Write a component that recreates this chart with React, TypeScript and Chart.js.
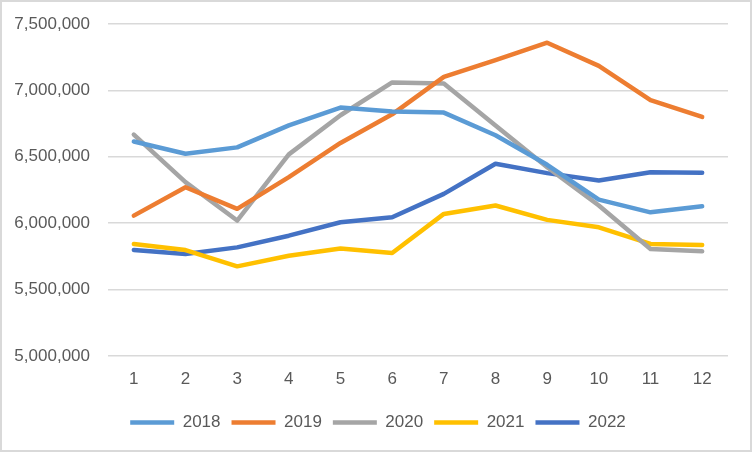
import React, { useEffect, useRef } from "react";
import { Chart, registerables } from "chart.js";

Chart.register(...registerables);

const categories = ["1", "2", "3", "4", "5", "6", "7", "8", "9", "10", "11", "12"];
const seriesNames = ["2018", "2019", "2020", "2021", "2022"];
const colors = ["#5B9BD5", "#ED7D31", "#A5A5A5", "#FFC000", "#4472C4"];

const s2018 = [6615000, 6523000, 6571000, 6737000, 6871000, 6841000, 6833000, 6662000, 6440000, 6178000, 6082000, 6128000];
const s2019 = [6057000, 6271000, 6108000, 6347000, 6604000, 6820000, 7102000, 7228000, 7359000, 7185000, 6926000, 6800000];
const s2020 = [6667000, 6309000, 6020000, 6518000, 6813000, 7060000, 7052000, 6735000, 6422000, 6133000, 5806000, 5788000];
const s2021 = [5844000, 5798000, 5675000, 5755000, 5810000, 5776000, 6070000, 6133000, 6025000, 5969000, 5844000, 5836000];
const s2022 = [5798000, 5768000, 5818000, 5906000, 6007000, 6045000, 6221000, 6448000, 6377000, 6322000, 6384000, 6380000];

const yMin = 5000000;
const yMax = 7500000;
const yStep = 500000;

const legendShift = {
  id: "legendShift",
  afterLayout(chart: any) {
    const l = chart.legend;
    if (l) {
      l.left += 7;
      l.right += 7;
    }
  },
};

export default function App() {
  const ref = useRef<HTMLCanvasElement | null>(null);

  useEffect(() => {
    document.body.style.margin = "0";
    if (!ref.current) return;
    const all = [s2018, s2019, s2020, s2021, s2022];
    const font = { family: "'Liberation Sans', Arial, sans-serif", size: 17 };
    const chart = new Chart(ref.current, {
      type: "line",
      data: {
        labels: categories,
        datasets: seriesNames.map((n, i) => ({
          label: n,
          data: all[i],
          borderColor: colors[i],
          backgroundColor: colors[i],
          borderWidth: 4.5,
          borderCapStyle: "round" as const,
          borderJoinStyle: "round" as const,
          pointRadius: 0,
          pointHoverRadius: 0,
          tension: 0,
          fill: false,
        })),
      },
      plugins: [legendShift],
      options: {
        animation: false,
        responsive: false,
        maintainAspectRatio: false,
        layout: { padding: { left: 14, right: 24, top: 24, bottom: 11 } },
        plugins: {
          tooltip: { enabled: false },
          legend: {
            position: "bottom",
            labels: {
              usePointStyle: true,
              pointStyle: "line",
              pointStyleWidth: 44,
              boxHeight: 17,
              padding: 11,
              color: "#595959",
              font,
            },
          },
        },
        scales: {
          x: {
            offset: true,
            grid: { display: false, drawTicks: false },
            border: { display: false },
            ticks: { color: "#595959", font, padding: 13 },
            afterFit: (axis: any) => {
              axis.height = 47;
            },
          },
          y: {
            min: yMin,
            max: yMax,
            grid: {
              color: "#D9D9D9",
              lineWidth: 1.5,
              drawTicks: true,
              tickLength: 18,
              tickColor: "rgba(0,0,0,0)",
            },
            border: { display: false },
            ticks: {
              stepSize: yStep,
              color: "#595959",
              font,
              padding: 0,
              callback: (v: any) => Number(v).toLocaleString("en-US"),
            },
            afterFit: (axis: any) => {
              axis.width = 94;
            },
          },
        },
      },
    });
    return () => chart.destroy();
  }, []);

  return (
    <div style={{ position: "relative", width: 752, height: 452, background: "#fff" }}>
      <canvas
        ref={ref}
        width={752}
        height={452}
        style={{ position: "absolute", left: 0, top: 0, width: 752, height: 452 }}
      />
      <div
        style={{
          position: "absolute",
          left: 0,
          top: 0,
          width: 752,
          height: 452,
          boxSizing: "border-box",
          border: "2px solid #D9D9D9",
          pointerEvents: "none",
        }}
      />
    </div>
  );
}
